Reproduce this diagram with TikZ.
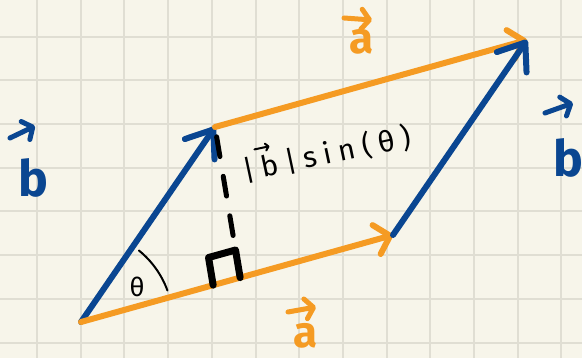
\documentclass[tikz,border=0pt]{standalone}
\usepackage{fontspec}
\setmainfont{Fira Sans}
\usetikzlibrary{arrows.meta,calc}
\definecolor{paper}{RGB}{247,245,234}
\definecolor{gridline}{RGB}{224,222,211}
\definecolor{vecorange}{RGB}{245,155,35}
\definecolor{vecblue}{RGB}{10,70,145}

\begin{document}
\begin{tikzpicture}[x=1pt,y=1pt,
          gridln/.style={draw=gridline,line width=2pt},
          avec/.style={draw=vecorange,line width=6pt,line cap=round,
            -{Straight Barb[length=14pt,width=30pt,round]}},
          bvec/.style={draw=vecblue,line width=6pt,line cap=round,
            -{Straight Barb[length=24pt,width=36pt,round]}},
          larr/.style={line width=5pt,line cap=round,
            -{Straight Barb[length=8pt,width=20pt,round]}},
          dashln/.style={draw=black,line width=5pt,line cap=round,
            dash pattern=on 20pt off 20pt,dash phase=-10pt},
          rmark/.style={draw=black,line width=7pt,line cap=round,line join=round},
          pen/.style={draw=black,line width=2pt,line cap=round},
          alab/.style={text=vecorange,font=\fontsize{44}{44}\selectfont\bfseries,inner sep=0pt},
          blab/.style={text=vecblue,font=\fontsize{50}{50}\selectfont\bfseries,inner sep=0pt},
          hlab/.style={text=black,font=\fontsize{29}{29}\selectfont\addfontfeature{LetterSpace=24},
            inner xsep=0pt,inner ysep=5pt}]

        \fill[paper] (0,0) rectangle (582,358);
        \useasboundingbox (0,0) rectangle (582,358);
        \foreach \gx in {0,...,12}
          \draw[gridln] ({37+43.7*\gx},0) -- ({37+43.7*\gx},358);
        \foreach \gy in {0,...,7}
          \draw[gridln] (0,{321.3-43.7*\gy}) -- (582,{321.3-43.7*\gy});

        \coordinate (O) at (81,36);
        \coordinate (A) at (393,123);
        \coordinate (B) at (215,231);
        \coordinate (C) at (527,318);
        \coordinate (F) at ($(O)!0.51!(A)$);
        \coordinate (P1) at ($(F)!28pt!(O)$);
        \coordinate (P3) at ($(F)!28pt!(B)$);
        \coordinate (P2) at ($(P1)+(P3)-(F)$);

        \draw[bvec] (O) -- (B);
        \draw[avec] (O) -- (A);
        \draw[avec] (B) -- (C);
        \draw[bvec] (A) -- (C);

        \draw[dashln] (B) -- (P3);
        \draw[rmark] (P1) -- (P2) -- (P3) -- (F);
        \draw[pen] ([shift={(20:92pt)}]O) arc[start angle=20,end angle=51,radius=92pt];

        \node[alab] (atop) at (362,316) {a};
        \draw[larr,draw=vecorange] (344,340) -- (372,338);
        \node[alab] (abot) at (306,22) {a};
        \draw[larr,draw=vecorange] (288,46) -- (316,51);
        \node[blab] (bleft) at (33,180) {b};
        \draw[larr,draw=vecblue] (10,220) -- (35,232);
        \node[blab] (bright) at (568,200) {b};
        \draw[larr,draw=vecblue] (545,245) -- (573,255);
        \node[hlab,rotate=12] (height) at (327,204) {|b|sin(θ)};
        \draw[pen,-{Straight Barb[length=3pt,width=7pt,round]}]
          ($(height.north west)!0.09!(height.north east)$) --
          ($(height.north west)!0.18!(height.north east)$);
        \node[hlab,font=\fontsize{26}{26}\selectfont] (theta) at (137,71) {θ};
      \end{tikzpicture}
\end{document}
